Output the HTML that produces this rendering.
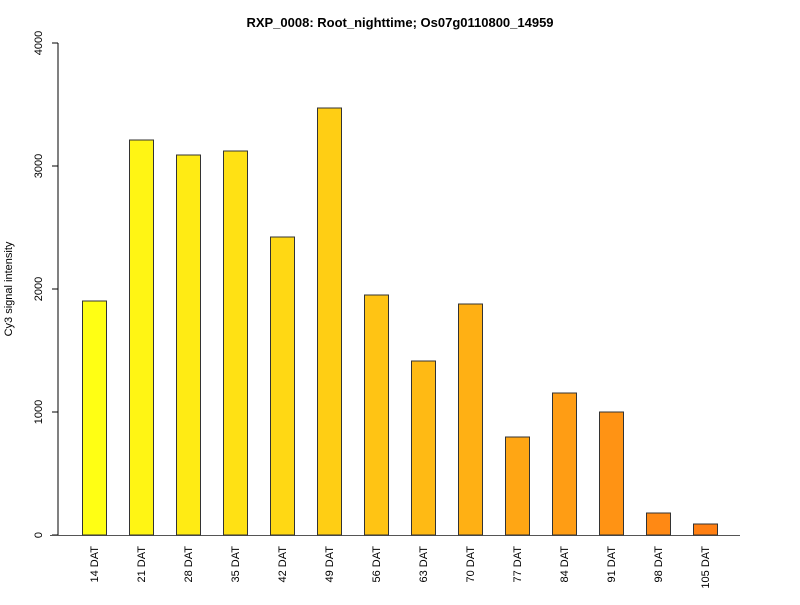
<!DOCTYPE html>
<html><head><meta charset="utf-8"><style>body{margin:0;background:#fff}</style></head><body>
<svg width="800" height="600" xmlns="http://www.w3.org/2000/svg" font-family="Liberation Sans, Arial, sans-serif">
<text x="400" y="27" text-anchor="middle" font-weight="bold" font-size="13">RXP_0008: Root_nighttime; Os07g0110800_14959</text>
<line x1="58" y1="43" x2="58" y2="535" stroke="#000"/>
<g stroke="#000">
<line x1="52" y1="535" x2="58" y2="535"/><line x1="52" y1="412" x2="58" y2="412"/><line x1="52" y1="289" x2="58" y2="289"/><line x1="52" y1="166" x2="58" y2="166"/><line x1="52" y1="43" x2="58" y2="43"/>
</g>
<g font-size="11" text-anchor="middle">
<text transform="translate(42,535) rotate(-90)">0</text>
<text transform="translate(42,412) rotate(-90)">1000</text>
<text transform="translate(42,289) rotate(-90)">2000</text>
<text transform="translate(42,166) rotate(-90)">3000</text>
<text transform="translate(42,43) rotate(-90)">4000</text>
<text transform="translate(12,289) rotate(-90)">Cy3 signal intensity</text>
</g>
<line x1="50" y1="535.5" x2="740" y2="535.5" stroke="#555"/>
<g stroke="#333" stroke-width="1">
<rect x="82.5" y="301" width="24" height="234" fill="#FFFF14"/>
<rect x="129.5" y="140" width="24" height="395" fill="#FFF514"/>
<rect x="176.5" y="155" width="24" height="380" fill="#FFEB14"/>
<rect x="223.5" y="151" width="24" height="384" fill="#FFE114"/>
<rect x="270.5" y="237" width="24" height="298" fill="#FFD814"/>
<rect x="317.5" y="108" width="24" height="427" fill="#FFCE14"/>
<rect x="364.5" y="295" width="24" height="240" fill="#FFC414"/>
<rect x="411.5" y="361" width="24" height="174" fill="#FFBA14"/>
<rect x="458.5" y="304" width="24" height="231" fill="#FFB014"/>
<rect x="505.5" y="437" width="24" height="98" fill="#FFA614"/>
<rect x="552.5" y="393" width="24" height="142" fill="#FF9D14"/>
<rect x="599.5" y="412" width="24" height="123" fill="#FF9314"/>
<rect x="646.5" y="513" width="24" height="22" fill="#FF8914"/>
<rect x="693.5" y="524" width="24" height="11" fill="#FF7F12"/>
</g>
<g font-size="11" text-anchor="end">
<text transform="translate(98,546) rotate(-90)">14 DAT</text>
<text transform="translate(145,546) rotate(-90)">21 DAT</text>
<text transform="translate(192,546) rotate(-90)">28 DAT</text>
<text transform="translate(239,546) rotate(-90)">35 DAT</text>
<text transform="translate(286,546) rotate(-90)">42 DAT</text>
<text transform="translate(333,546) rotate(-90)">49 DAT</text>
<text transform="translate(380,546) rotate(-90)">56 DAT</text>
<text transform="translate(427,546) rotate(-90)">63 DAT</text>
<text transform="translate(474,546) rotate(-90)">70 DAT</text>
<text transform="translate(521,546) rotate(-90)">77 DAT</text>
<text transform="translate(568,546) rotate(-90)">84 DAT</text>
<text transform="translate(615,546) rotate(-90)">91 DAT</text>
<text transform="translate(662,546) rotate(-90)">98 DAT</text>
<text transform="translate(709,546) rotate(-90)">105 DAT</text>
</g>
</svg>
</body></html>
